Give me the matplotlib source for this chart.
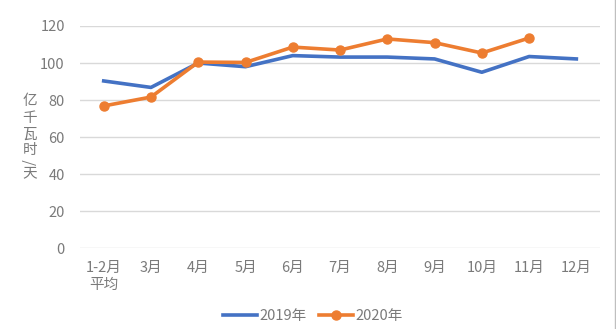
import matplotlib
matplotlib.use("Agg")
import matplotlib.pyplot as plt
from matplotlib.lines import Line2D

plt.rcParams['font.family'] = ['Noto Sans CJK SC', 'DejaVu Sans']
plt.rcParams['font.weight'] = 'light'

categories = ["1-2月\n平均", "3月", "4月", "5月", "6月", "7月", "8月", "9月", "10月", "11月", "12月"]
values_2019 = [90.3, 86.8, 100.0, 98.0, 104.0, 103.2, 103.2, 102.2, 95.0, 103.5, 102.2]
values_2020 = [76.8, 81.6, 100.5, 100.3, 108.6, 107.0, 113.0, 111.0, 105.4, 113.5]
series_names = ["2019年", "2020年"]
y_ticks = [0, 20, 40, 60, 80, 100, 120]
y_label_chars = ["亿", "千", "瓦", "时", "/", "天"]

blue = "#4472C4"
orange = "#ED7D31"
gray = "#7A7A7A"

W, H = 616, 329
fig = plt.figure(figsize=(W / 100, H / 100), dpi=100)
ax = fig.add_axes([0.13, 0.246, 0.844, 0.675])

x19 = list(range(len(values_2019)))
x20 = list(range(len(values_2020)))
ax.plot(x19, values_2019, color=blue, lw=2.6, label=series_names[0], zorder=3)
ax.plot(x20, values_2020, color=orange, lw=2.6, marker='o', markersize=6.5, label=series_names[1], zorder=4)

ax.set_xlim(-0.5, len(categories) - 0.5)
ax.set_ylim(0, 120)
ax.set_yticks(y_ticks)
ax.set_xticks(range(len(categories)))
ax.set_xticklabels(categories, linespacing=1.35)
ax.tick_params(axis='both', length=0, colors=gray, labelsize=10.5)
ax.tick_params(axis='x', pad=9)
ax.tick_params(axis='y', pad=11)
ax.grid(axis='y', color='#D9D9D9', lw=1)
ax.set_axisbelow(True)
for s in ax.spines.values():
    s.set_visible(False)

# vertical stacked axis title
y_positions = [101, 118, 134.5, 150, 162, 173]
for ch, yp in zip(y_label_chars, y_positions):
    fig.text(30 / W, 1 - yp / H, ch, color=gray, fontsize=10.5, ha='center', va='center',
             rotation=(90 if ch == "/" else 0))

handles = [Line2D([], [], color=blue, lw=2.6), Line2D([], [], color=orange, lw=2.6, marker='o', markersize=6.5)]
fig.legend(handles, series_names, loc='center', bbox_to_anchor=(0.508, 1 - 316 / H), ncol=2, frameon=False,
           fontsize=10.5, labelcolor=gray, handlelength=2.3, handletextpad=0.15, columnspacing=0.9)

fig.add_artist(Line2D([0.9985, 0.9985], [0, 1], transform=fig.transFigure, color='#BFBFBF', lw=1))

fig.savefig("out.png", dpi=100)
